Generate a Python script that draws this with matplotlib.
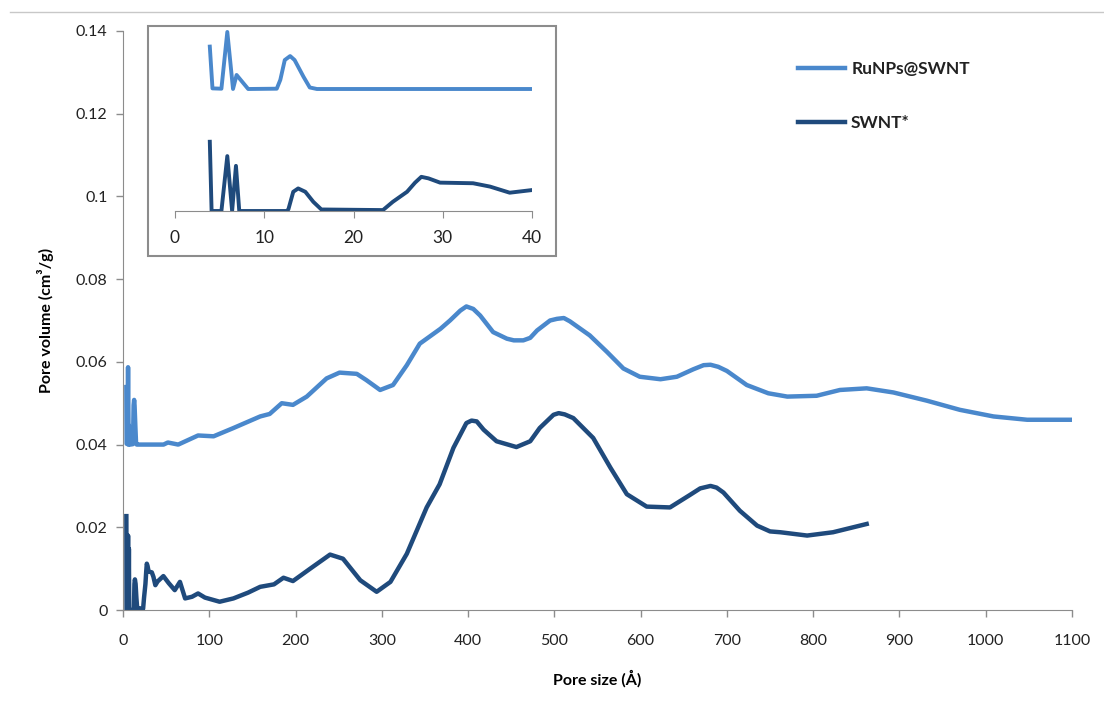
import matplotlib.pyplot as plt
from matplotlib.lines import Line2D
from matplotlib.patches import Rectangle
from matplotlib.ticker import FuncFormatter

plt.rcParams['font.family'] = ['Lato', 'DejaVu Sans']

# pore size distribution, RuNPs@SWNT
ru_x = [3.9, 4.2, 5.2, 5.86, 6.5, 6.9, 8.2, 11.4, 11.8, 12.3, 12.9, 13.4, 14.4, 15.1,
        15.9, 20, 30, 40, 47, 52, 64, 87, 105, 128, 159, 170, 184, 197, 213, 236, 251,
        271, 282, 298, 313, 329, 344, 360, 368, 379, 391, 398, 406, 414, 429, 445,
        453, 464, 472, 480, 495, 503, 511, 518, 541, 561, 580, 599, 623, 642, 661,
        673, 681, 690, 700, 723, 748, 770, 804, 831, 862, 893, 932, 970, 1009, 1048,
        1100]
ru_y = [0.0539, 0.0402, 0.0401, 0.0587, 0.0400, 0.0446, 0.0400, 0.0401, 0.0430, 0.0495,
        0.0508, 0.0495, 0.0440, 0.0405, 0.0400, 0.0400, 0.0400, 0.0400, 0.0400, 0.0405,
        0.0400, 0.0422, 0.0420, 0.0440, 0.0468, 0.0474, 0.0500, 0.0496, 0.0516, 0.0560,
        0.0574, 0.0571, 0.0556, 0.0532, 0.0544, 0.0592, 0.0644, 0.0668, 0.0680, 0.0700,
        0.0724, 0.0734, 0.0728, 0.0712, 0.0672, 0.0656, 0.0652, 0.0652, 0.0658, 0.0676,
        0.0700, 0.0704, 0.0706, 0.0698, 0.0664, 0.0624, 0.0584, 0.0564, 0.0558, 0.0564,
        0.0582, 0.0592, 0.0593, 0.0588, 0.0578, 0.0544, 0.0524, 0.0516, 0.0518, 0.0532,
        0.0536, 0.0526, 0.0506, 0.0484, 0.0468, 0.0460, 0.0460]

# pore size distribution, SWNT*
sw_x = [3.9, 4.1, 5.2, 5.86, 6.4, 6.83, 7.2, 12.5, 12.7, 13.25, 13.8, 14.6, 15.5, 16.4,
        23.3, 24.4, 26.0, 26.9, 27.6, 28.4, 29.7, 33.4, 35.3, 37.5, 40.1, 46.8, 53, 60,
        66, 72, 80, 87, 95, 112, 128, 145, 159, 175, 186, 197, 217, 240, 255, 275, 294,
        310, 329, 352, 367, 383, 398, 404, 410, 418, 433, 456, 472, 483, 499, 505, 512,
        522, 545, 565, 584, 607, 634, 657, 669, 681, 688, 696, 715, 735, 750, 762, 793,
        823, 862]
sw_y = [0.0227, 0.0, 0.0, 0.0180, 0.0, 0.0148, 0.0, 0.0, 0.0005, 0.0063, 0.0074, 0.0063,
        0.0030, 0.0005, 0.0003, 0.0030, 0.0063, 0.0093, 0.0112, 0.0107, 0.0093, 0.0091,
        0.0080, 0.0060, 0.0069, 0.0082, 0.0065, 0.0048, 0.0068, 0.0028, 0.0032, 0.0040,
        0.0030, 0.0020, 0.0028, 0.0042, 0.0056, 0.0062, 0.0078, 0.0070, 0.0100, 0.0134,
        0.0124, 0.0072, 0.0044, 0.0068, 0.0136, 0.0248, 0.0304, 0.0392, 0.0452, 0.0458,
        0.0456, 0.0436, 0.0408, 0.0394, 0.0408, 0.0440, 0.0472, 0.0476, 0.0473, 0.0464,
        0.0416, 0.0344, 0.0280, 0.0250, 0.0248, 0.0278, 0.0294, 0.0300, 0.0296, 0.0284,
        0.0240, 0.0204, 0.0190, 0.0188, 0.0180, 0.0188, 0.0208]

light = '#4a88cc'
dark = '#1f4a7c'
grey = '#8c8c8c'

W, H = 1104, 702
fig = plt.figure(figsize=(W / 100, H / 100), dpi=100)

# main axes
ax = fig.add_axes([123 / W, (H - 610) / H, 949 / W, 579 / H])
ax.plot(ru_x, ru_y, color=light, lw=3.2, solid_joinstyle='round', label='RuNPs@SWNT')
ax.plot(sw_x, sw_y, color=dark, lw=3.2, solid_joinstyle='round', label='SWNT*')
ax.set_xlim(0, 1100)
ax.set_ylim(0, 0.14)
ax.set_xticks(range(0, 1101, 100))
ax.set_yticks([i * 0.02 for i in range(8)])
ax.yaxis.set_major_formatter(FuncFormatter(lambda v, p: '%g' % round(v, 2)))
for s in ['top', 'right']:
    ax.spines[s].set_visible(False)
for s in ['left', 'bottom']:
    ax.spines[s].set_color(grey)
ax.tick_params(colors=grey, labelcolor='#222222', labelsize=11.5, length=5, width=1)
ax.tick_params(axis='x', pad=12)
ax.tick_params(axis='y', pad=6)
ax.set_xlabel('Pore size (Å)', fontsize=11.5, fontweight='bold', labelpad=16)
ax.set_ylabel('Pore volume (cm³/g)', fontsize=11.5, fontweight='bold', labelpad=16)

# legend on the right
leg = ax.legend(loc='upper left', bbox_to_anchor=(0.695, 0.975), frameon=False,
                fontsize=12.5, handlelength=2.7, handletextpad=0.35, labelspacing=2.2)
for t in leg.get_texts():
    t.set_fontweight('bold')
    t.set_color('#222222')

# inset with the micropore region
fig.patches.append(Rectangle((148 / W, (H - 256) / H), 408 / W, 230 / H,
                             transform=fig.transFigure, fill=False,
                             edgecolor=grey, lw=1.5, zorder=0))
ins = fig.add_axes([175 / W, (H - 211) / H, 357 / W, 183 / H])
ins.plot(ru_x, ru_y, color=light, lw=2.8, solid_joinstyle='round')
ins.plot(sw_x, sw_y, color=dark, lw=2.8, solid_joinstyle='round')
ins.set_xlim(0, 40)
ins.set_ylim(0, 0.06)
ins.set_xticks([0, 10, 20, 30, 40])
ins.set_yticks([])
for s in ['top', 'right', 'left']:
    ins.spines[s].set_visible(False)
ins.spines['bottom'].set_color(grey)
ins.tick_params(colors=grey, labelcolor='#222222', labelsize=12.5, length=5, pad=9)
ins.patch.set_alpha(0)

# thin rule across the top
fig.add_artist(Line2D([10 / W, 1.0], [(H - 12) / H] * 2, transform=fig.transFigure,
                      color='#c8c8c8', lw=1))

fig.savefig('out.png', dpi=100)
